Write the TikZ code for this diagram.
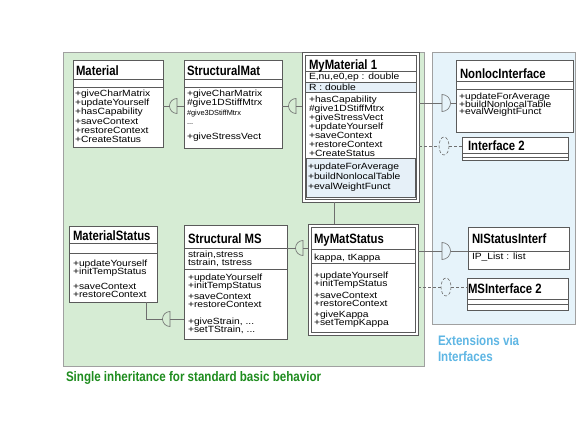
\documentclass[tikz,border=0pt]{standalone}
\usepackage{fontspec}
\setmainfont{Liberation Sans}
\usepackage{graphicx}
\definecolor{greenfill}{RGB}{214,236,212}
\definecolor{bluefill}{RGB}{230,243,250}
\definecolor{regline}{RGB}{160,160,160}
\definecolor{boxline}{RGB}{90,90,90}
\definecolor{connline}{RGB}{110,110,110}
\definecolor{greentxt}{RGB}{30,140,30}
\definecolor{bluetxt}{RGB}{94,182,228}
\definecolor{compfill}{RGB}{230,240,248}
\newcommand{\condtxt}[1]{\scalebox{0.84}[1]{#1}}
\newcommand{\mt}[1]{\scalebox{1.03}[0.9]{#1}}
\begin{document}
\begin{tikzpicture}[x=1pt,y=-1pt,
  region/.style={draw=regline, line width=0.7pt, inner sep=0, outer sep=0, anchor=north west},
  cls/.style={draw=boxline, fill=white, line width=0.6pt, inner sep=0, outer sep=0, anchor=north west},
  sepline/.style={draw=boxline, line width=0.5pt},
  ttl/.style={anchor=base west, inner sep=0, outer sep=0, font=\bfseries\fontsize{13.5}{14}\selectfont},
  mth/.style={anchor=base west, inner sep=0, outer sep=0, font=\fontsize{10}{10}\selectfont},
  smallmth/.style={anchor=base west, inner sep=0, outer sep=0, font=\fontsize{7.4}{8}\selectfont},
  captxt/.style={anchor=base west, inner sep=0, outer sep=0, font=\bfseries\fontsize{13.8}{14}\selectfont},
  conn/.style={draw=connline, line width=0.6pt},
  dconn/.style={draw=connline, line width=0.6pt, dash pattern=on 3pt off 2pt},
  inhl/.pic={\draw[conn] (0,-7.5) arc[start angle=-90,end angle=-270,radius=7.5] -- cycle;},
  inhr/.pic={\draw[conn] (0,-8.5) arc[start angle=-90,end angle=90,radius=8.5] -- cycle;}
]
\useasboundingbox (0,0) rectangle (577,446);
\fill[white] (0,0) rectangle (577,446);

% regions
\node[region, fill=greenfill, minimum width=361pt, minimum height=314pt] (green) at (63,52) {};
\node[region, fill=bluefill, minimum width=143pt, minimum height=272pt] (blue) at (432,52) {};
\node[captxt, text=greentxt] (gcap) at (66,381.7) {\condtxt{Single inheritance for standard basic behavior}};
\node[captxt, text=bluetxt] (bcap1) at (438,345.5) {\condtxt{Extensions via}};
\node[captxt, text=bluetxt] (bcap2) at (438,361.5) {\condtxt{Interfaces}};

% boxes (outlines)
\node[cls, minimum width=90pt, minimum height=87pt] (mat) at (73,60) {};
\node[cls, minimum width=98pt, minimum height=88pt] (smat) at (184,60) {};
\node[cls, fill=white, minimum width=117pt, minimum height=150pt] (mym) at (302,52) {};
\node[cls, minimum width=111pt, minimum height=144pt] (mymi) at (305,55) {};
\node[cls, minimum width=88pt, minimum height=76pt] (mst) at (69,226) {};
\node[cls, minimum width=103pt, minimum height=114pt] (sms) at (184,225) {};
\node[cls, minimum width=110pt, minimum height=111pt] (mms) at (308,224) {};
\node[cls, minimum width=104pt, minimum height=105pt] (mmsi) at (311,227) {};
\node[cls, minimum width=117pt, minimum height=72pt] (nli) at (456,60) {};
\node[cls, minimum width=106pt, minimum height=23pt] (if2) at (462,137) {};
\node[cls, minimum width=101pt, minimum height=42pt] (nls) at (468,227) {};
\node[cls, minimum width=101pt, minimum height=32pt] (msi) at (467,278) {};

% connector coordinates
\coordinate (j1) at (177,106);
\coordinate (j2) at (296,106);
\coordinate (j3) at (442,103);
\coordinate (j4) at (303,248);
\coordinate (j5) at (170,319);
\coordinate (k5) at (146,319);
\coordinate (j6) at (442,251);
\coordinate (d1) at (444,146);
\coordinate (d2) at (446,287);
\coordinate (v1) at (334,0);

% connectors
\draw[conn] (mat.east |- j1) -- ([xshift=-7.5pt]j1);
\pic at (j1) {inhl};
\draw[conn] (j1) -- (smat.west |- j1);

\draw[conn] (smat.east |- j2) -- ([xshift=-7.5pt]j2);
\pic at (j2) {inhl};
\draw[conn] (j2) -- (mym.west |- j2);

\draw[conn] (mym.east |- j3) -- (j3);
\pic at (j3) {inhr};
\draw[conn] ([xshift=8.5pt]j3) -- (nli.west |- j3);

\draw[conn] (sms.east |- j4) -- ([xshift=-7.5pt]j4);
\pic at (j4) {inhl};
\draw[conn] (j4) -- (mms.west |- j4);

\draw[conn] (mst.south -| k5) -- (k5) -- ([xshift=-7.5pt]j5);
\pic at (j5) {inhl};
\draw[conn] (j5) -- (sms.west |- j5);

\draw[conn] (mms.east |- j6) -- (j6);
\pic at (j6) {inhr};
\draw[conn] ([xshift=8.5pt]j6) -- (nls.west |- j6);

\draw[dconn] (mym.east |- d1) -- ([xshift=-5pt]d1);
\draw[dconn] (d1) ellipse [x radius=5, y radius=9];
\draw[dconn] ([xshift=5pt]d1) -- (if2.west |- d1);

\draw[dconn] (mms.east |- d2) -- ([xshift=-5pt]d2);
\draw[dconn] (d2) ellipse [x radius=5, y radius=9];
\draw[dconn] ([xshift=5pt]d2) -- (msi.west |- d2);

\draw[conn] (mym.south -| v1) -- (mms.north -| v1);

% ---------- Material
\draw[sepline] (73,79) -- (163,79);
\draw[sepline] (73,87) -- (163,87);
\node[ttl] (matT) at (76,75.5) {\condtxt{Material}};
\foreach \t [count=\i] in {+giveCharMatrix,+updateYourself,+hasCapability}
  \node[mth] (matA\i) at (75,{96.7+8.8*(\i-1)}) {\mt{\t}};
\foreach \t [count=\i] in {+saveContext,+restoreContext,+CreateStatus}
  \node[mth] (matB\i) at (75,{125+8.9*(\i-1)}) {\mt{\t}};

% ---------- StructuralMat
\draw[sepline] (184,79) -- (282,79);
\draw[sepline] (184,87) -- (282,87);
\node[ttl] (smatT) at (187,75.5) {\condtxt{StructuralMat}};
\node[mth] (smatA1) at (187,96.7) {\mt{+giveCharMatrix}};
\node[mth] (smatA2) at (187,105.3) {\mt{\#give1DStiffMtrx}};
\node[smallmth] (smatA3) at (187,116) {\#give3DStiffMtrx};
\node[smallmth] (smatA4) at (187,124.5) {...};
\node[mth] (smatA5) at (187,139.4) {\mt{+giveStressVect}};

% ---------- MyMaterial 1
\draw[sepline] (305,71.5) -- (416,71.5);
\draw[sepline, fill=compfill] (305,82) rectangle (416,92.5);
\draw[sepline, fill=compfill] (306,158.5) rectangle (415,197.5);
\node[ttl] (mymT) at (309,69.5) {\condtxt{MyMaterial 1}};
\node[mth] (mymA1) at (309,79.5) {\mt{E,nu,e0,ep : double}};
\node[mth] (mymA2) at (309,90.8) {\mt{R : double}};
\foreach \t [count=\i] in {+hasCapability,\#give1DStiffMtrx,+giveStressVect,+updateYourself,+saveContext,+restoreContext,+CreateStatus}
  \node[mth] (mymB\i) at (309,{102.7+8.9*(\i-1)}) {\mt{\t}};
\foreach \t [count=\i] in {+updateForAverage,+buildNonlocalTable,+evalWeightFunct}
  \node[mth] (mymC\i) at (308,{169.4+10.2*(\i-1)}) {\mt{\t}};

% ---------- MaterialStatus
\draw[sepline] (69,243.5) -- (157,243.5);
\draw[sepline] (69,253) -- (157,253);
\node[ttl] (mstT) at (73,240.5) {\condtxt{MaterialStatus}};
\node[mth] (mstA1) at (73,266) {\mt{+updateYourself}};
\node[mth] (mstA2) at (73,274.4) {\mt{+initTempStatus}};
\node[mth] (mstA3) at (73,289.4) {\mt{+saveContext}};
\node[mth] (mstA4) at (73,297.7) {\mt{+restoreContext}};

% ---------- Structural MS
\draw[sepline] (184,248) -- (287,248);
\draw[sepline] (184,269) -- (287,269);
\node[ttl] (smsT) at (188,243) {\condtxt{Structural MS}};
\node[mth] (smsA1) at (188,257) {\mt{strain,stress}};
\node[mth] (smsA2) at (188,265.4) {\mt{tstrain, tstress}};
\node[mth] (smsB1) at (188,280) {\mt{+updateYourself}};
\node[mth] (smsB2) at (188,288) {\mt{+initTempStatus}};
\node[mth] (smsB3) at (188,299.5) {\mt{+saveContext}};
\node[mth] (smsB4) at (188,307.7) {\mt{+restoreContext}};
\node[mth] (smsB5) at (188,324.4) {\mt{+giveStrain, ...}};
\node[mth] (smsB6) at (188,332.7) {\mt{+setTStrain, ...}};

% ---------- MyMatStatus
\draw[sepline] (311,249.5) -- (415,249.5);
\draw[sepline] (311,263.5) -- (415,263.5);
\node[ttl] (mmsT) at (314,243) {\condtxt{MyMatStatus}};
\node[mth] (mmsA1) at (314,260) {\mt{kappa, tKappa}};
\node[mth] (mmsB1) at (314,278.7) {\mt{+updateYourself}};
\node[mth] (mmsB2) at (314,286.7) {\mt{+initTempStatus}};
\node[mth] (mmsB3) at (314,298.3) {\mt{+saveContext}};
\node[mth] (mmsB4) at (314,306.6) {\mt{+restoreContext}};
\node[mth] (mmsB5) at (314,317.3) {\mt{+giveKappa}};
\node[mth] (mmsB6) at (314,325.3) {\mt{+setTempKappa}};

% ---------- NonlocInterface
\draw[sepline] (456,81) -- (573,81);
\draw[sepline] (456,89) -- (573,89);
\node[ttl] (nliT) at (460,79) {\condtxt{NonlocInterface}};
\foreach \t [count=\i] in {+updateForAverage,+buildNonlocalTable,+evalWeightFunct}
  \node[mth] (nliA\i) at (459,{99.3+7.8*(\i-1)}) {\mt{\t}};

% ---------- Interface 2
\draw[sepline] (462,153) -- (568,153);
\draw[sepline] (462,157) -- (568,157);
\node[ttl] (if2T) at (468,151) {\condtxt{Interface 2}};

% ---------- NIStatusInterf
\draw[sepline] (468,251) -- (569,251);
\node[ttl] (nlsT) at (472,243) {\condtxt{NIStatusInterf}};
\node[mth] (nlsA1) at (472,259.5) {\mt{IP\_List : list}};

% ---------- MSInterface 2
\draw[sepline] (467,299) -- (568,299);
\draw[sepline] (467,304.5) -- (568,304.5);
\node[ttl] (msiT) at (468,293) {\condtxt{MSInterface 2}};
\end{tikzpicture}
\end{document}
